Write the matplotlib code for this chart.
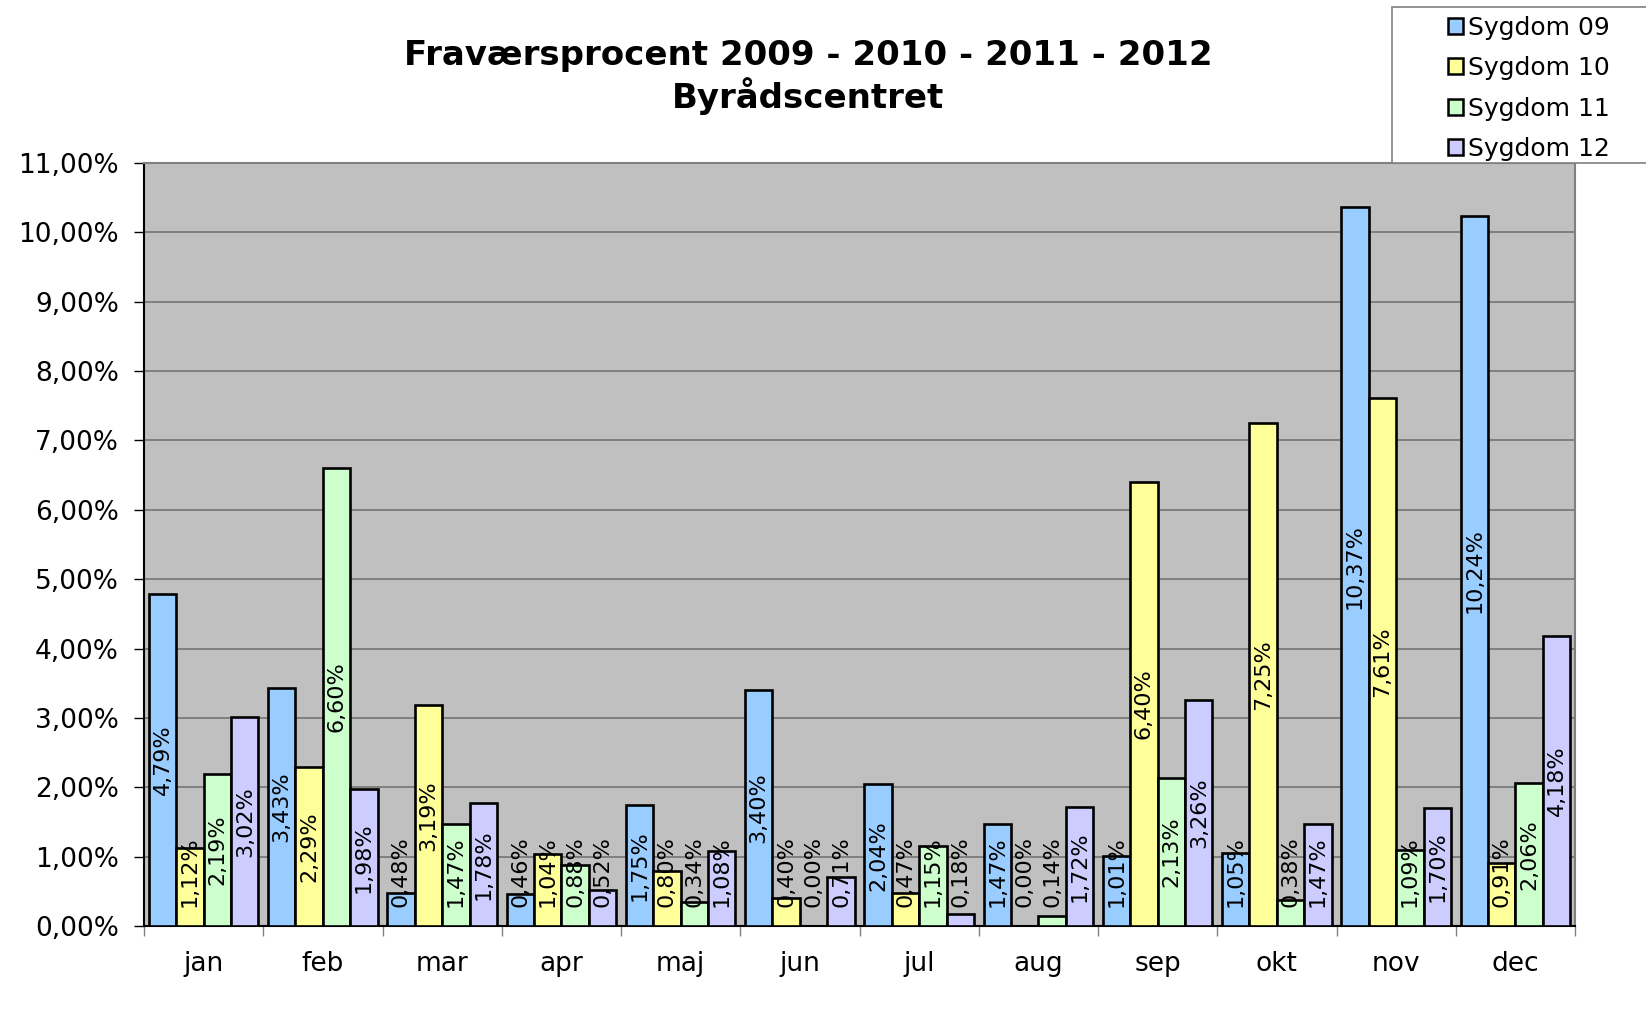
import matplotlib.pyplot as plt
import numpy as np
from matplotlib.patches import Patch, Rectangle
from matplotlib.ticker import FuncFormatter, MultipleLocator

plt.rcParams["font.family"] = ["DejaVu Sans"]

months = ["jan", "feb", "mar", "apr", "maj", "jun", "jul", "aug", "sep", "okt", "nov", "dec"]
series_names = ["Sygdom 09", "Sygdom 10", "Sygdom 11", "Sygdom 12"]

sygdom_09 = [4.79, 3.43, 0.48, 0.46, 1.75, 3.40, 2.04, 1.47, 1.01, 1.05, 10.37, 10.24]
sygdom_10 = [1.12, 2.29, 3.19, 1.04, 0.80, 0.40, 0.47, 0.00, 6.40, 7.25, 7.61, 0.91]
sygdom_11 = [2.19, 6.60, 1.47, 0.88, 0.34, 0.00, 1.15, 0.14, 2.13, 0.38, 1.09, 2.06]
sygdom_12 = [3.02, 1.98, 1.78, 0.52, 1.08, 0.71, 0.18, 1.72, 3.26, 1.47, 1.70, 4.18]

colors = ["#99CCFF", "#FFFF99", "#CCFFCC", "#CCCCFF"]


def pct(v):
    return f"{v:.2f}%".replace(".", ",")


W, H = 1646, 1022
fig = plt.figure(figsize=(W / 100, H / 100), dpi=100)
ax = fig.add_axes([144 / W, 1 - 926 / H, (1575 - 144) / W, (926 - 163) / H])
ax.set_facecolor("#C0C0C0")

x = np.arange(len(months))
bw = 0.23
all_series = [sygdom_09, sygdom_10, sygdom_11, sygdom_12]
for i, (vals, col) in enumerate(zip(all_series, colors)):
    xs = x + (i - 1.5) * bw
    ax.bar(xs, vals, width=bw, color=col, edgecolor="black", linewidth=1.9, zorder=3)
    for xi, v in zip(xs, vals):
        # labels sit in bar middle, but never hang below the axis
        yc = max(v / 2, 0.78)
        ax.text(xi, yc, pct(v), rotation=90, ha="center", va="center",
                fontsize=16, color="black", zorder=4)

ax.set_xlim(-0.5, 11.5)
ax.set_ylim(0, 11)
ax.yaxis.set_major_locator(MultipleLocator(1))
ax.yaxis.set_major_formatter(FuncFormatter(lambda v, p: pct(v)))
ax.grid(axis="y", color="#6e6e6e", linewidth=1.1, zorder=1)
ax.set_axisbelow(True)

ax.set_xticks(x)
ax.set_xticklabels(months)
ax.set_xticks(np.arange(-0.5, 12, 1), minor=True)
ax.tick_params(axis="x", which="major", length=0, pad=18, labelsize=19)
ax.tick_params(axis="x", which="minor", length=7, width=1, color="#808080")
ax.tick_params(axis="y", length=7, width=1, pad=11, labelsize=19)

for s in ["top", "right"]:
    ax.spines[s].set_color("#808080")
    ax.spines[s].set_linewidth(1.5)
for s in ["left", "bottom"]:
    ax.spines[s].set_color("black")
    ax.spines[s].set_linewidth(1.5)

fig.text(808 / W, 1 - 55 / H, "Fraværsprocent 2009 - 2010 - 2011 - 2012",
         ha="center", va="center", fontsize=24.5, fontweight="bold")
fig.text(808 / W, 1 - 96 / H, "Byrådscentret",
         ha="center", va="center", fontsize=24.5, fontweight="bold")

# legend box running off the right edge
fig.patches.append(Rectangle((1392 / W, 1 - 163 / H), (1700 - 1392) / W, (163 - 7) / H,
                             transform=fig.transFigure, facecolor="white",
                             edgecolor="#808080", linewidth=1.2, zorder=5))
handles = [Patch(facecolor=c, edgecolor="black", linewidth=1.8) for c in colors]
leg = fig.legend(handles, series_names, loc="upper left",
                 bbox_to_anchor=(1430 / W, 1 + 2 / H), frameon=False,
                 fontsize=18, handlelength=0.6, handleheight=0.6,
                 handletextpad=0.2, labelspacing=0.66, borderpad=0.2)
leg.set_zorder(6)

fig.savefig("out.png", dpi=100)
